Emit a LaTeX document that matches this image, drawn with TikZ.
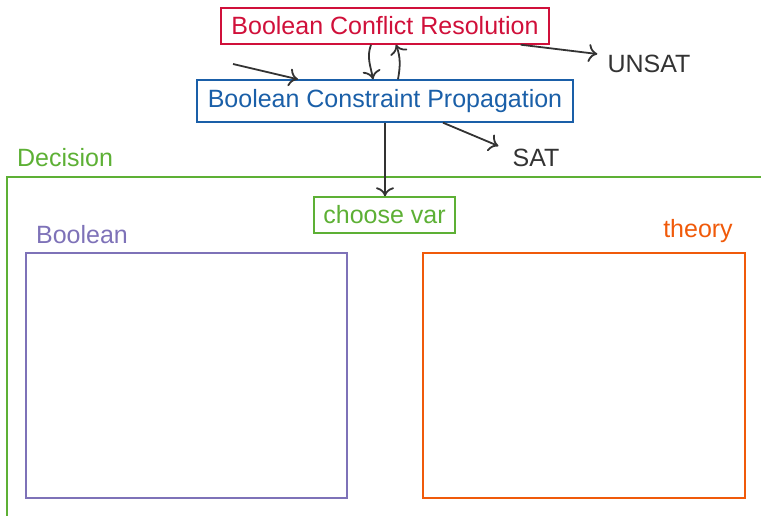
\documentclass[tikz,border=0pt]{standalone}
\usepackage{fontspec}
\setmainfont{Liberation Sans}
\usetikzlibrary{arrows.meta,calc}
\definecolor{cred}{HTML}{D0103A}
\definecolor{cblue}{HTML}{1A5FA8}
\definecolor{cgreen}{HTML}{5DB035}
\definecolor{cpurple}{HTML}{7E72B8}
\definecolor{corange}{HTML}{F05A0A}
\definecolor{cdark}{HTML}{333333}
\tikzset{
  lbl/.style={font=\fontsize{25}{30}\selectfont, inner sep=0pt},
  boxnode/.style={line width=1.4pt, font=\fontsize{25}{30}\selectfont, inner sep=0pt},
  conn/.style={draw=cdark, line width=1.8pt, -{Computer Modern Rightarrow[length=9pt,width=18pt]}},
}
\begin{document}
\begin{tikzpicture}[x=1pt,y=1pt]
\useasboundingbox (0,0) rectangle (761,-516);
\clip (0,0) rectangle (761,-516);
% frames
\draw[cgreen, line width=2pt] (7,-600) -- (7,-177) -- (800,-177);
\node[lbl, text=cgreen] (dec) at (65,-158) {Decision};
\node[lbl, text=cpurple] (bl) at (82,-235) {Boolean};
\node[lbl, text=corange] (th) at (698,-231) {theory};
\node[draw=cpurple, line width=2.5pt, minimum width=321, minimum height=245, inner sep=0pt] (bbox) at (186.5,-375.5) {};
\node[draw=corange, line width=2.5pt, minimum width=322, minimum height=245, inner sep=0pt] (tbox) at (584,-375.5) {};
% top nodes
\node[boxnode, draw=cred, text=cred, minimum width=328, minimum height=36] (conf) at (385,-26) {Boolean Conflict Resolution};
\node[boxnode, draw=cblue, text=cblue, minimum width=376, minimum height=42] (prop) at (385,-101) {Boolean Constraint Propagation};
\node[boxnode, draw=cgreen, text=cgreen, minimum width=141, minimum height=36] (choose) at (384.5,-215) {choose var};
\node[lbl, text=cdark] (unsat) at (649,-64) {UNSAT};
\node[lbl, text=cdark] (sat) at (536,-158) {SAT};
\coordinate (start) at (233,-64);
% connectors
\draw[conn] (start) -- ([xshift=-87]prop.north);
\draw[conn] ([xshift=-14]conf.south) to[out=-110,in=100] ([xshift=-12]prop.north);
\draw[conn] ([xshift=13]prop.north) to[out=80,in=-70] ([xshift=11]conf.south);
\draw[conn] ([xshift=-29]conf.south east) -- ([shift={(-10,10)}]unsat.west);
\draw[conn] ([xshift=58]prop.south) -- ([shift={(-14,12)}]sat.west);
\draw[conn] (prop.south) -- (prop.south |- choose.north);
\end{tikzpicture}
\end{document}
